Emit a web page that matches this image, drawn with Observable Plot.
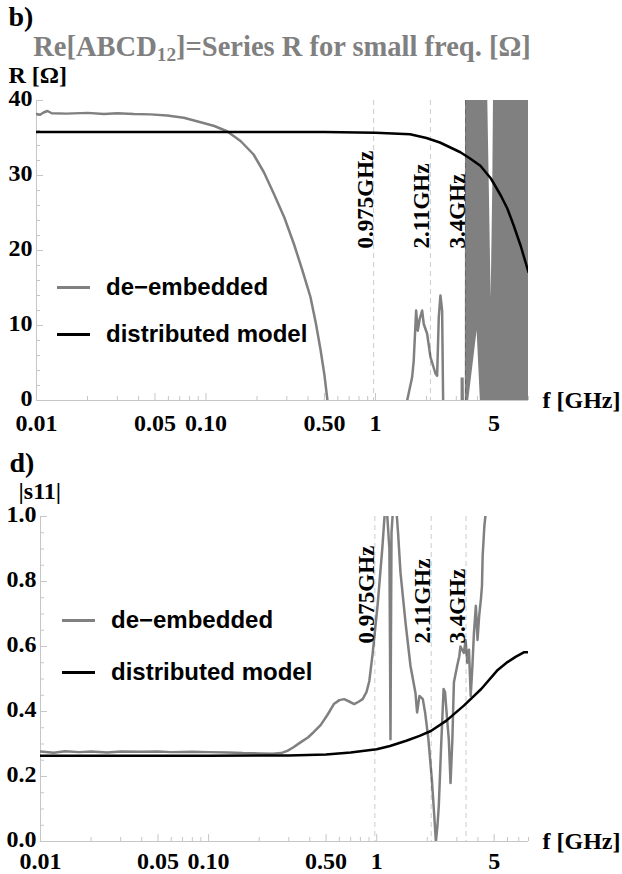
<!DOCTYPE html>
<html><head><meta charset="utf-8">
<script src="https://cdn.jsdelivr.net/npm/d3@7"></script>
<script src="https://cdn.jsdelivr.net/npm/@observablehq/plot@0.6"></script>
<style>
body{margin:0;background:#fff;}
#wrap{position:relative;width:622px;height:874px;overflow:hidden;background:#fff;}
.panel{position:absolute;left:0;}
.title{position:absolute;font-family:'Liberation Serif','Times New Roman',serif;font-weight:bold;white-space:nowrap;color:#808080;font-size:28.5px;line-height:28px;}
.title sub{font-size:0.68em;line-height:0;vertical-align:-0.25em;}
.leg{position:absolute;display:flex;align-items:center;font-family:'Liberation Sans',Arial,sans-serif;font-weight:bold;font-size:24px;height:30px;white-space:nowrap;color:#000;}
.leg .sw{display:inline-block;width:33px;height:3px;margin-right:16px;}
</style></head><body><div id="wrap"></div>
<script>
// ---------- shared axis data ----------
const fDomain = [0.01, 8];
const xMajor = [0.01, 0.05, 0.1, 0.5, 1, 5];
const xMajorLabels = ["0.01", "0.05", "0.10", "0.50", "1", "5"];
const xMinor = [0.02,0.03,0.04,0.06,0.07,0.08,0.09,0.2,0.3,0.4,0.6,0.7,0.8,0.9,2,3,4,6,7,8];
const markerF = [0.975, 2.11, 3.4];
const markerLabels = ["0.975GHz", "2.11GHz", "3.4GHz"];
const seriesNames = ["de\u2212embedded", "distributed model"];
const seriesColors = ["#808080", "#000000"];

// ---------- panel b: Re[ABCD12] ----------
const rDomain = [0, 40];
const rMajor = [0, 10, 20, 30, 40];
const rMinor = [2,4,6,8,12,14,16,18,22,24,26,28,32,34,36,38];
// de-embedded (null = gap where curve is below 0)
const deembB_f = [0.01,0.0105,0.011,0.0116,0.0123,0.015,0.02,0.025,0.03,0.0375,0.047,0.059,0.074,0.093,0.112,0.133,0.16,0.191,0.22,0.251,0.29,0.33,0.37,0.4135,0.445,0.474,0.50,0.521,1.0,1.538,1.646,1.682,1.738,1.777,1.825,1.886,1.927,2.018,2.111,2.26,2.312,2.364,2.418,2.474,2.508];
const deembB_R = [38.2,38.1,38.4,38.6,38.3,38.25,38.35,38.2,38.3,38.2,38.15,38.0,37.7,37.1,36.6,35.9,34.6,32.8,30.4,27.6,24.4,20.9,17.4,13.8,10.3,6.8,3.4,0,null,0,3.1,5.3,12,9.3,10.9,12,10.2,8.9,5.8,3.6,3.3,11.1,14,12,0];
// rapidly oscillating part above 3.2 GHz: lower / upper envelope
const bandB_f    = [3.20,3.34,3.35,3.39,3.40,3.55,3.98,4.16,4.56,4.70,4.815,4.92,4.99,8.0];
const bandB_low  = [0,0,0,0,0,0,9.3,0,0,0,0,0,0,0];
const bandB_high = [3,3,0,0,45,45,45,45,45,28,13.6,28,45,45];
// distributed model
const modelB_f = [0.01,0.1,0.5,1,1.6,2.0,2.4,3.17,3.6,4.16,4.8,5.5,6.0,6.55,7.2,8.0];
const modelB_R = [35.8,35.8,35.8,35.7,35.5,35.0,34.4,33.1,32.3,31.3,29.6,27.3,25.6,23.3,20.6,17.1];

// ---------- panel d: |s11| ----------
const sDomain = [0, 1];
const sMajor = [0, 0.2, 0.4, 0.6, 0.8, 1.0];
const sMajorLabels = ["0.0", "0.2", "0.4", "0.6", "0.8", "1.0"];
const sMinor = [0.05,0.1,0.15,0.25,0.3,0.35,0.45,0.5,0.55,0.65,0.7,0.75,0.85,0.9,0.95];
const deembD_f = [0.01,0.012,0.014,0.017,0.02,0.025,0.03,0.04,0.05,0.06,0.08,0.1,0.13,0.16,0.2,0.24,0.27,0.294,0.32,0.352,0.39,0.4227,0.4638,0.51,0.556,0.6,0.64,0.69,0.735,0.78,0.825,0.87,0.904,0.9455,1.0136,1.081,1.12,1.15,1.19,1.2,1.208,1.215,1.225,1.25,1.31,1.34,1.385,1.4835,1.589,1.7,1.739,1.796,1.881,1.941,2.03,2.128,2.2,2.25,2.30,2.341,2.42,2.5,2.55,2.62,2.685,2.75,2.82,2.88,3.01,3.1,3.15,3.30,3.38,3.46,3.54,3.625,3.71,3.79,3.89,3.98,4.07,4.17,4.23,4.27,4.37,4.47,4.5];
const deembD_s = [0.277,0.273,0.278,0.275,0.277,0.274,0.277,0.276,0.277,0.275,0.276,0.275,0.274,0.272,0.271,0.270,0.272,0.279,0.290,0.305,0.320,0.337,0.358,0.390,0.423,0.435,0.438,0.430,0.423,0.430,0.438,0.460,0.494,0.577,0.730,0.905,1.02,1.02,0.90,0.60,0.315,0.60,0.95,1.02,1.02,0.95,0.828,0.674,0.540,0.458,0.397,0.448,0.438,0.397,0.315,0.192,0.08,0.0,0.05,0.11,0.30,0.469,0.46,0.38,0.315,0.18,0.315,0.49,0.54,0.57,0.60,0.58,0.62,0.55,0.59,0.448,0.54,0.643,0.725,0.62,0.694,0.746,0.787,0.88,0.97,1.02,1.05];
const modelD_f = [0.01,0.1,0.3,0.5,0.7,1.0,1.2,1.5,1.8,2.1,2.6,3.3,4.2,5.25,6.0,6.7,7.5,8.0];
const modelD_s = [0.264,0.264,0.265,0.268,0.274,0.284,0.294,0.31,0.325,0.34,0.372,0.418,0.47,0.528,0.552,0.568,0.582,0.582];

// ---------- helpers ----------
const W = 622;
const serif = "'Liberation Serif','Times New Roman',serif";
const axisGray = "#c6c6c6";
const zip = (xs, ys) => xs.map((x, i) => ({x, y: ys[i]}));

function makePanel(o) {
  const fw = W - o.m.left - o.m.right;
  const fh = o.h - o.m.top - o.m.bottom;
  const marks = [
    Plot.ruleY([o.yDomain[0]], {stroke: axisGray, strokeWidth: 1}),
    Plot.ruleX([fDomain[0]], {stroke: axisGray, strokeWidth: 1}),
    Plot.tickX(xMinor, {x: d => d, stroke: axisGray, insetTop: fh - 4}),
    Plot.tickX(xMajor, {x: d => d, stroke: axisGray, insetTop: fh - 7}),
    Plot.tickY(o.yMinor, {y: d => d, stroke: axisGray, insetRight: fw - 4}),
    Plot.tickY(o.yMajor, {y: d => d, stroke: axisGray, insetRight: fw - 7}),
    // x tick labels
    Plot.text(xMajor, {x: d => d, frameAnchor: "bottom", text: (d, i) => xMajorLabels[i], lineAnchor: "top", textAnchor: "middle", dy: o.xLabelDy, fontSize: 24, fill: "black"}),
    // y tick labels
    Plot.text(o.yMajor, {y: d => d, frameAnchor: "left", text: (d, i) => o.yLabels[i], textAnchor: "end", lineAnchor: "middle", dx: -4, dy: -2, fontSize: 24, fill: "black"}),
  ];
  if (o.band) marks.push(Plot.areaY(o.band, {x: "x", y1: "lo", y2: "hi", fill: seriesColors[0], clip: true, curve: "linear"}));
  marks.push(
    Plot.lineY(o.deemb, {x: "x", y: "y", stroke: seriesColors[0], strokeWidth: 2.5, clip: true}),
    Plot.ruleX(markerF, {x: d => d, stroke: "black", strokeOpacity: 0.2, strokeDasharray: "5,4", strokeWidth: 1}),
    Plot.lineY(o.model, {x: "x", y: "y", stroke: seriesColors[1], strokeWidth: 2.5, clip: true}),
    Plot.text(markerF, {x: d => d, frameAnchor: "bottom", text: (d, i) => markerLabels[i], rotate: -90, textAnchor: "start", lineAnchor: "bottom", dy: o.markerDy, dx: -1, fontSize: 23, fill: "black"}),
    Plot.text(["f [GHz]"], {frameAnchor: "bottom-right", textAnchor: "start", lineAnchor: "middle", dx: 14, fontSize: 24, fill: "black"}),
    Plot.text([o.yLabel], {frameAnchor: "top-left", textAnchor: "start", lineAnchor: "bottom", dx: o.yLabelDx, dy: o.yLabelDy, fontSize: 24, fill: "black"}),
    Plot.text([o.tag], {frameAnchor: "top-left", textAnchor: "start", lineAnchor: "bottom", dx: o.tagDx, dy: o.tagDy, fontSize: 28, fill: "black"})
  );
  const svg = Plot.plot({
    width: W, height: o.h,
    marginTop: o.m.top, marginRight: o.m.right, marginBottom: o.m.bottom, marginLeft: o.m.left,
    style: {fontFamily: serif, fontSize: "24px", fontWeight: "bold", color: "black", background: "white", overflow: "visible"},
    x: {type: "log", domain: fDomain, label: null, axis: null},
    y: {domain: o.yDomain, label: null, axis: null},
    marks
  });
  svg.classList.add("panel");
  svg.style.top = o.top + "px";
  return svg;
}

function addLegend(wrap, left, ys) {
  seriesNames.forEach((name, i) => {
    const row = document.createElement("div");
    row.className = "leg";
    row.style.left = left + "px";
    row.style.top = (ys[i] - 15) + "px";
    const sw = document.createElement("span");
    sw.className = "sw";
    sw.style.background = seriesColors[i];
    const tx = document.createElement("span");
    tx.textContent = name;
    row.appendChild(sw); row.appendChild(tx);
    wrap.appendChild(row);
  });
}

const wrap = document.getElementById("wrap");

const bandB = bandB_f.map((x, i) => ({x, lo: bandB_low[i], hi: bandB_high[i]}));
wrap.appendChild(makePanel({
  top: 0, h: 440, m: {top: 100, right: 94, bottom: 40, left: 36},
  yDomain: rDomain, yMajor: rMajor, yMinor: rMinor, yLabels: rMajor.map(String),
  deemb: zip(deembB_f, deembB_R), model: zip(modelB_f, modelB_R), band: bandB,
  xLabelDy: 13,
  markerDy: -152, yLabel: "R [\u03A9]", yLabelDx: -28, yLabelDy: -18, tag: "b)", tagDx: -28, tagDy: -75
}));

wrap.appendChild(makePanel({
  top: 440, h: 434, m: {top: 76, right: 94, bottom: 33, left: 40},
  yDomain: sDomain, yMajor: sMajor, yMinor: sMinor, yLabels: sMajorLabels,
  deemb: zip(deembD_f, deembD_s), model: zip(modelD_f, modelD_s), band: null,
  xLabelDy: 10,
  markerDy: -198, yLabel: "|s11|", yLabelDx: -22, yLabelDy: -18, tag: "d)", tagDx: -31, tagDy: -45
}));

const title = document.createElement("div");
title.className = "title";
title.style.left = "0px"; title.style.width = "564px"; title.style.textAlign = "center";
title.style.top = "33px";
title.innerHTML = "Re[ABCD<sub>12</sub>]=Series R for small freq. [\u03A9]";
wrap.appendChild(title);

addLegend(wrap, 57, [287, 334]);
addLegend(wrap, 62, [620, 672]);
</script></body></html>
